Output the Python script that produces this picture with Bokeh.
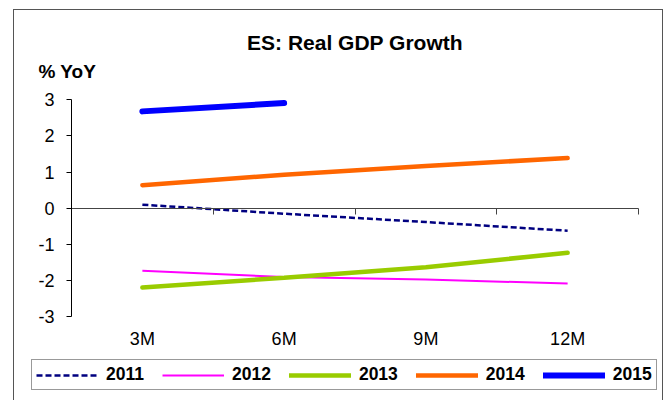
from bokeh.plotting import figure
from bokeh.models import Range1d, LinearAxis, FixedTicker, Legend, LegendItem, Label
from bokeh.core.properties import value
from bokeh.embed import file_html
from bokeh.resources import INLINE

# ---- data ----
categories = ["3M", "6M", "9M", "12M"]
y_ticks = [-3, -2, -1, 0, 1, 2, 3]
y_tick_labels = ["-3", "-2", "-1", "0", "1", "2", "3"]
years = ["2011", "2012", "2013", "2014", "2015"]
s2011 = [0.10, -0.15, -0.38, -0.62]
s2012 = [-1.73, -1.90, -1.97, -2.08]
s2013 = [-2.19, -1.92, -1.63, -1.23]
s2014 = [0.64, 0.93, 1.17, 1.39]
s2015 = [2.68, 2.91]
title_text = "ES: Real GDP Growth"
unit_text = "% YoY"

FONT = "Liberation Sans"

# ---- layout (pixels) ----
CANVAS_W, CANVAS_H = 648, 390
BORDER_L, BORDER_T = 12, 10
FRAME_W, FRAME_H = CANVAS_W - BORDER_L, CANVAS_H - BORDER_T
ORIGIN_X, ORIGIN_Y = 14, 10                 # canvas top-left on the page
AX_LEFT, AX_RIGHT = 71, 638                 # category area on the page
AX_TOP, AX_BOTTOM = 99.3, 316.3             # value axis 3 .. -3 on the page
YMIN, YMAX = min(y_ticks), max(y_ticks)

n = len(categories)
centers = [i + 0.5 for i in range(n)]
bounds = list(range(n + 1))

fl = ORIGIN_X + BORDER_L
ft = ORIGIN_Y + BORDER_T
xppu = (AX_RIGHT - AX_LEFT) / n
yppu = (AX_BOTTOM - AX_TOP) / (YMAX - YMIN)
x0 = -(AX_LEFT - fl) / xppu
y1 = YMAX + (AX_TOP - ft) / yppu


def px_x(px):
    return x0 + (px - fl) / xppu


def px_y(py):
    return y1 - (py - ft) / yppu


p = figure(x_range=Range1d(x0, x0 + FRAME_W / xppu),
           y_range=Range1d(y1 - FRAME_H / yppu, y1),
           frame_width=FRAME_W, frame_height=FRAME_H,
           output_backend="svg", toolbar_location=None,
           x_axis_location=None, y_axis_location=None, title=None,
           min_border_left=BORDER_L, min_border_right=0,
           min_border_top=BORDER_T, min_border_bottom=0)
p.margin = (9, 0, 0, 13)
p.styles = {"border-left": "1px solid #555555", "border-top": "1px solid #555555",
            "border-right": "1px solid #555555"}
p.outline_line_color = None
p.background_fill_color = "white"
p.border_fill_color = "white"
p.xgrid.visible = False
p.ygrid.visible = False

# value axis (line + ticks), labels as text
yaxis = LinearAxis(ticker=FixedTicker(ticks=y_ticks), fixed_location=0,
                   bounds=(YMIN, YMAX))
yaxis.major_label_overrides = {t: "" for t in y_ticks}
yaxis.axis_line_color = "black"
yaxis.major_tick_line_color = "black"
yaxis.major_tick_out = 5
yaxis.major_tick_in = 0
yaxis.minor_tick_line_color = None
yaxis.major_label_standoff = 0
p.add_layout(yaxis, "left")

p.text(x=[0] * len(y_ticks), y=y_ticks, text=y_tick_labels, x_offset=-17,
       text_align="right", text_baseline="middle", text_font=value(FONT),
       text_font_size="18px", text_color="black")

# zero line with boundary ticks
zaxis = LinearAxis(ticker=FixedTicker(ticks=bounds), fixed_location=0,
                   bounds=(0, n))
zaxis.major_label_overrides = {b: "" for b in bounds}
zaxis.axis_line_color = "#444444"
zaxis.major_tick_line_color = "#444444"
zaxis.major_tick_out = 0
zaxis.major_tick_in = 6
zaxis.minor_tick_line_color = None
zaxis.major_label_standoff = 0
p.add_layout(zaxis, "above")

# category labels
p.text(x=centers, y=[YMIN] * n, text=categories, y_offset=22,
       text_align="center", text_baseline="middle", text_font=value(FONT),
       text_font_size="18px", text_color="black")

# titles
p.add_layout(Label(x=(0 + n) / 2, y=px_y(42), text=title_text, text_align="center",
                   text_baseline="middle", text_font=FONT, text_font_size="21px",
                   text_font_style="bold", text_color="black"))
p.add_layout(Label(x=px_x(38), y=px_y(71), text=unit_text, text_align="left",
                   text_baseline="middle", text_font=FONT, text_font_size="19px",
                   text_font_style="bold", text_color="black"))

r11 = p.line(centers, s2011, line_color="#000080", line_width=2.5, line_dash="6 3")
r12 = p.line(centers, s2012, line_color="#FF00FF", line_width=2)
r13 = p.line(centers, s2013, line_color="#99CC00", line_width=4.5, line_cap="round")
r14 = p.line(centers, s2014, line_color="#FF6600", line_width=4.5, line_cap="round")
r15 = p.line(centers[:len(s2015)], s2015, line_color="#0000FF", line_width=6,
             line_cap="round")

legend = Legend(items=[LegendItem(label=y, renderers=[r]) for y, r in
                       zip(years, [r11, r12, r13, r14, r15])],
                orientation="horizontal",
                location=(31 - fl, ORIGIN_Y + CANVAS_H - 390),
                glyph_width=62, glyph_height=14, label_height=14, label_standoff=8,
                spacing=18, padding=4, margin=0,
                border_line_color="#333333", border_line_width=1,
                label_text_font=FONT, label_text_font_style="bold",
                label_text_font_size="17.5px", label_text_color="black",
                background_fill_color="white", background_fill_alpha=1)
p.add_layout(legend)

open("out.html", "w").write(file_html(p, INLINE))
